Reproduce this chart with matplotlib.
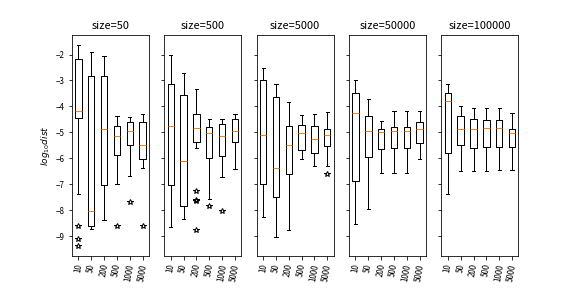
import matplotlib
matplotlib.use("Agg")
import matplotlib.pyplot as plt

plt.rcParams['font.family'] = ['Noto Sans CJK SC', 'DejaVu Sans']
plt.rcParams['axes.unicode_minus'] = True

sizes = [50, 500, 5000, 50000, 100000]
categories = ['10', '50', '200', '500', '1000', '5000']

# per panel, per category: whislo, q1, med, q3, whishi
whislo = [
    [-7.37, -8.73, -8.36, -7.00, -6.67, -6.37],
    [-8.64, -8.34, -5.59, -7.58, -6.73, -6.40],
    [-8.24, -9.03, -8.77, -6.01, -6.29, -6.29],
    [-8.53, -7.93, -6.57, -6.57, -6.57, -6.02],
    [-7.35, -6.48, -6.48, -6.48, -6.44, -6.44],
]
q1 = [
    [-4.43, -8.60, -7.04, -5.86, -5.48, -6.03],
    [-7.04, -7.85, -5.38, -5.98, -5.90, -5.35],
    [-7.00, -7.50, -6.61, -5.69, -5.78, -5.51],
    [-6.88, -5.94, -5.63, -5.59, -5.59, -5.39],
    [-5.78, -5.47, -5.59, -5.55, -5.55, -5.55],
]
med = [
    [-4.17, -8.02, -4.88, -5.12, -4.96, -5.47],
    [-4.74, -6.08, -4.84, -5.02, -5.12, -4.96],
    [-5.08, -6.37, -5.47, -5.02, -5.27, -5.08],
    [-4.24, -4.96, -4.98, -4.96, -4.96, -4.88],
    [-3.78, -4.88, -4.88, -4.84, -4.84, -5.02],
]
q3 = [
    [-2.18, -2.81, -2.81, -4.76, -4.60, -4.60],
    [-3.14, -3.54, -4.28, -4.80, -4.68, -4.50],
    [-3.00, -3.62, -4.76, -4.72, -4.76, -4.88],
    [-3.49, -4.37, -4.88, -4.80, -4.80, -4.59],
    [-3.49, -4.37, -4.49, -4.53, -4.53, -4.88],
]
whishi = [
    [-1.62, -1.91, -2.05, -4.37, -4.41, -4.29],
    [-2.00, -2.72, -3.31, -4.50, -4.50, -4.29],
    [-2.52, -3.14, -3.82, -4.33, -4.29, -4.20],
    [-3.00, -3.70, -4.57, -4.17, -4.17, -4.17],
    [-3.14, -3.98, -4.06, -4.06, -4.06, -4.24],
]
fliers = [
    [[-8.62, -9.11, -9.38], [], [], [-8.60], [-7.69], [-8.62]],
    [[], [], [-7.25, -7.60, -7.64, -8.75], [-7.85], [-8.03], []],
    [[], [], [], [], [], [-6.59]],
    [[], [], [], [], [], []],
    [[], [], [], [], [], []],
]

fig, axes = plt.subplots(1, len(sizes), sharey=True, figsize=(8, 4), dpi=72)
for p, ax in enumerate(axes):
    stats = []
    for i, cat in enumerate(categories):
        stats.append(dict(label=cat, whislo=whislo[p][i], q1=q1[p][i], med=med[p][i],
                          q3=q3[p][i], whishi=whishi[p][i], fliers=fliers[p][i]))
    ax.bxp(stats, flierprops=dict(marker='*', markerfacecolor='none',
                                  markeredgecolor='k', markersize=6))
    ax.set_title(f'size={sizes[p]}', fontsize=11)
    ax.tick_params(axis='x', labelrotation=80, labelsize=8)
    ax.tick_params(axis='y', labelsize=8)
axes[0].set_ylabel('$log_{10}dist$', fontsize=9)
fig.savefig('out.png', dpi=72)
